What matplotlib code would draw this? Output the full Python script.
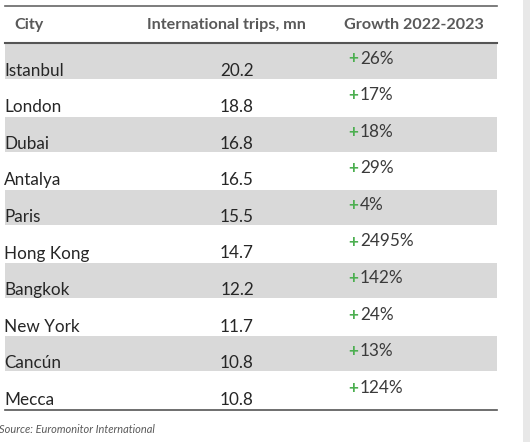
import numpy as np
import matplotlib.pyplot as plt

cities = ["Istanbul", "London", "Dubai", "Antalya", "Paris",
          "Hong Kong", "Bangkok", "New York", "Cancún", "Mecca"]
trips = [20.2, 18.8, 16.8, 16.5, 15.5, 14.7, 12.2, 11.7, 10.8, 10.8]
growth = [26, 17, 18, 29, 4, 2495, 142, 24, 13, 124]
headers = ["City", "International trips, mn", "Growth 2022-2023"]
source = "Source: Euromonitor International"

W, H = 530, 442
fig = plt.figure(figsize=(W / 100, H / 100), dpi=100)
ax = fig.add_axes([0, 0, 1, 1])
ax.set_xlim(0, W)
ax.set_ylim(H, 0)
ax.axis('off')

font = 'Lato'
txt = '#262626'
hdr = '#595959'
green = '#4caf50'
fs = 12.3

x0, x1 = 5, 497
top = 43.5
pitch = 36.6

# right gray strip
ax.axvspan(523, W, color='#e8e8e8', lw=0)

# shaded rows
for i in range(len(cities)):
    if i % 2 == 0:
        ax.barh(top + i * pitch, x1 - x0, left=x0, height=35,
                align='edge', color='#d9d9d9', lw=0)

# rules
ax.plot([x0, x1], [6, 6], color='#666666', lw=1.2)
ax.plot([x0, x1], [top - 1, top - 1], color='#555555', lw=1.5)
ax.plot([x0, x1], [top + len(cities) * pitch, top + len(cities) * pitch],
        color='#555555', lw=1.2)

# headers
ax.text(14, 29, headers[0], fontsize=11.6, fontweight='bold', color=hdr,
        family=font, va='baseline', ha='left')
ax.text(226, 29, headers[1], fontsize=11.6, fontweight='bold', color=hdr,
        family=font, va='baseline', ha='center')
ax.text(414, 29, headers[2], fontsize=11.6, fontweight='bold', color=hdr,
        family=font, va='baseline', ha='center')

for i, (c, t, g) in enumerate(zip(cities, trips, growth)):
    y = top + i * pitch
    ax.text(4, y + 32, c, fontsize=fs, color=txt, family=font,
            va='baseline', ha='left')
    ax.text(237, y + 32, f"{t:.1f}", fontsize=fs, color=txt, family=font,
            va='baseline', ha='center')
    ax.text(348, y + 20, "+", fontsize=fs, color=green, family=font,
            va='baseline', ha='left', fontweight='bold')
    ax.text(360, y + 20, f"{g}%", fontsize=fs, color='#3a3a3a', family=font,
            va='baseline', ha='left')

ax.text(-1, 433, source, fontsize=7.9, style='italic', color='#595959',
        family=font, va='baseline', ha='left')

fig.savefig('out.png', dpi=100)
